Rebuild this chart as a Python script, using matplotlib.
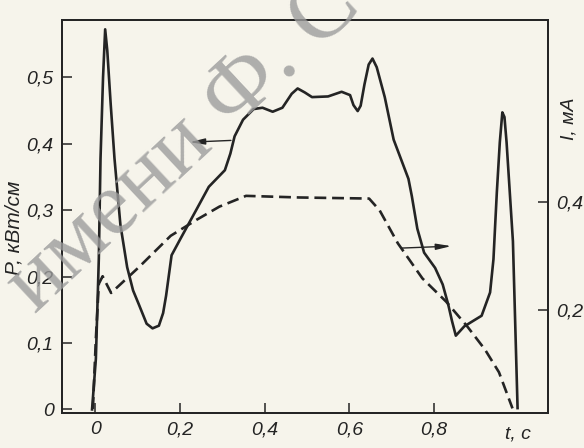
import numpy as np
import matplotlib
matplotlib.use('Agg')
from matplotlib import pyplot as plt

# Мощность P (кВт/см) во времени, левая ось
t_p = [-0.008, 0.001, 0.008, 0.012, 0.018, 0.023, 0.028, 0.036, 0.045, 0.059,
       0.075, 0.089, 0.102, 0.121, 0.135, 0.150, 0.160, 0.167, 0.180, 0.202,
       0.239, 0.268, 0.306, 0.319, 0.329, 0.349, 0.374, 0.395, 0.419, 0.442,
       0.464, 0.478, 0.495, 0.512, 0.550, 0.582, 0.602, 0.610, 0.620, 0.627,
       0.636, 0.646, 0.655, 0.665, 0.684, 0.705, 0.740, 0.748, 0.761, 0.777,
       0.803, 0.821, 0.834, 0.843, 0.852, 0.872, 0.895, 0.913, 0.933, 0.941,
       0.945, 0.949, 0.956, 0.962, 0.967, 0.972, 0.987, 0.998]
p_val = [0.0, 0.076, 0.227, 0.377, 0.50, 0.572, 0.54, 0.46, 0.378, 0.278,
         0.214, 0.179, 0.159, 0.129, 0.122, 0.126, 0.145, 0.171, 0.232, 0.258,
         0.301, 0.335, 0.360, 0.385, 0.411, 0.436, 0.452, 0.454, 0.448, 0.454,
         0.475, 0.483, 0.477, 0.470, 0.471, 0.478, 0.473, 0.458, 0.449, 0.457,
         0.489, 0.519, 0.528, 0.515, 0.470, 0.406, 0.347, 0.321, 0.272, 0.236,
         0.213, 0.188, 0.158, 0.133, 0.111, 0.125, 0.134, 0.141, 0.176, 0.226,
         0.277, 0.327, 0.402, 0.447, 0.440, 0.402, 0.253, 0.002]

# Ток разряда I (мА), правая ось
t_i = [-0.006, 0.001, 0.008, 0.017, 0.037, 0.103, 0.178, 0.240, 0.293, 0.356,
       0.482, 0.647, 0.672, 0.715, 0.773, 0.829, 0.879, 0.921, 0.954, 0.986]
i_val = [0.017, 0.147, 0.249, 0.263, 0.232, 0.280, 0.338, 0.368, 0.392, 0.412,
         0.409, 0.407, 0.385, 0.324, 0.259, 0.216, 0.170, 0.127, 0.085, 0.018]

x_ticks = [0, 0.2, 0.4, 0.6, 0.8]
x_labels = ['0', '0,2', '0,4', '0,6', '0,8']
p_ticks = [0, 0.1, 0.2, 0.3, 0.4, 0.5]
p_labels = ['0', '0,1', '0,2', '0,3', '0,4', '0,5']
i_ticks = [0.2, 0.4]
i_labels = ['0,2', '0,4']

ink = '#242424'
paper = '#f6f4eb'
plt.rcParams['font.family'] = ['Liberation Sans', 'DejaVu Sans']
plt.rcParams['font.style'] = 'italic'

fig = plt.figure(figsize=(5.84, 4.48), dpi=100, facecolor=paper)
ax = fig.add_axes([0.1062, 0.0781, 0.8322, 0.8772], facecolor=paper)
ax2 = ax.twinx()

# Водяной знак
fig.text(0.315, 0.675, 'имени Ф. С', rotation=43, fontsize=66, color='#9c9c9c',
         alpha=0.8, family='Liberation Serif', style='normal',
         ha='center', va='center', zorder=0)

ax.plot(t_p, p_val, color=ink, lw=1.9, solid_joinstyle='round')
ax2.plot(t_i, i_val, color=ink, lw=1.9, linestyle=(0, (4.5, 2.2)))

ax.set_xlim(-0.079, 1.07)
ax.set_ylim(-0.0054, 0.586)
ax2.set_ylim(0.0094, 0.738)

ax.set_xticks(x_ticks, x_labels)
ax.set_yticks(p_ticks, p_labels)
ax2.set_yticks(i_ticks, i_labels)

for a in (ax, ax2):
    a.tick_params(direction='in', length=7, width=1.1, color=ink,
                  labelsize=14, labelcolor=ink, pad=6)
    for s in a.spines.values():
        s.set_color(ink)
        s.set_linewidth(1.3)

ax.set_ylabel('P, кВт/см', fontsize=15, color=ink)
ax.yaxis.set_label_coords(-0.08, 0.47)
ax2.set_ylabel('I, мА', fontsize=14, color=ink, rotation=90)
ax2.yaxis.set_label_coords(1.025, 0.75)

ax.annotate('t, c', xy=(1.0, 0), xycoords=('data', 'axes fraction'),
            xytext=(0, -15), textcoords='offset points', ha='center', va='center',
            fontsize=14, color=ink)

# Стрелки: какая кривая к какой оси
ax.annotate('', xy=(0.216, 0.402), xytext=(0.327, 0.405),
            arrowprops=dict(arrowstyle='-|>,head_length=0.9,head_width=0.18',
                            color=ink, lw=1.0))
ax2.annotate('', xy=(0.848, 0.319), xytext=(0.718, 0.315),
             arrowprops=dict(arrowstyle='-|>,head_length=0.9,head_width=0.18',
                             color=ink, lw=1.0))

fig.savefig('out.png', dpi=100, facecolor=paper)
